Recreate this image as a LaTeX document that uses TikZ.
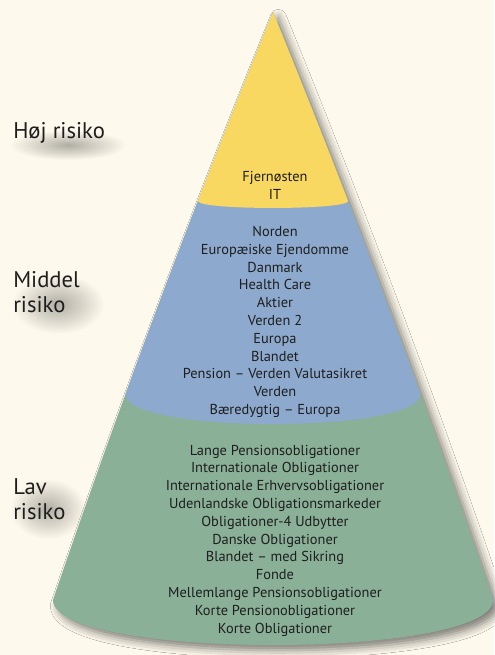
\documentclass[tikz,border=0pt]{standalone}
\usepackage{fontspec}
\setmainfont{PT Sans}
\usetikzlibrary{positioning,calc,shadows.blur,fadings}
\definecolor{bgcream}{HTML}{FDF9EC}
\definecolor{topyellow}{HTML}{F9D862}
\definecolor{midblue}{HTML}{8DAACE}
\definecolor{lowgreen}{HTML}{8AB098}
\definecolor{txt}{HTML}{1E1E1E}
\tikzfading[name=softblob, inner color=transparent!0, outer color=transparent!100]

\begin{document}
\begin{tikzpicture}[x=0.75pt, y=-0.75pt,
    fund/.style={align=center, inner sep=0pt, text=txt, font=\fontsize{10.8}{13.35}\selectfont},
    risk/.style={align=left, inner sep=0pt, anchor=west, text=txt, font=\fontsize{17}{18.75}\selectfont},
    blob/.style={fill=black, opacity=0.3, path fading=softblob}]
  \useasboundingbox[fill=bgcream] (0,0) rectangle (494,655);

  \fill[blob] (68,145) ellipse [x radius=58, y radius=15];
  \fill[blob] (58,304) ellipse [x radius=46, y radius=30];
  \fill[blob] (48,509) ellipse [x radius=38, y radius=30];

  \coordinate (apex) at (273,12);
  \coordinate (bl) at (53,600);
  \coordinate (br) at (493,600);
  \path (apex) .. controls (193,208) and (119.7,404) .. (bl)
    coordinate[pos=0.3214] (yl) coordinate[pos=0.6497] (gl);
  \path (apex) .. controls (353,208) and (426.3,404) .. (br)
    coordinate[pos=0.3214] (yr) coordinate[pos=0.6497] (gr);

  \fill[lowgreen, blur shadow={shadow xshift=4pt, shadow yshift=-4pt, shadow blur radius=6pt, shadow opacity=50}]
    (apex) .. controls (193,208) and (119.7,404) .. (bl)
    .. controls (53,660) and (493,660) .. (br)
    .. controls (426.3,404) and (353,208) .. (apex) -- cycle;
  \begin{scope}
    \clip (apex) .. controls (193,208) and (119.7,404) .. (bl)
      .. controls (53,660) and (493,660) .. (br)
      .. controls (426.3,404) and (353,208) .. (apex) -- cycle;
    \fill[midblue] (0,0) -- (0,394) -- (gl) .. controls ($(gl)+(0,40)$) and ($(gr)+(0,40)$) .. (gr)
      -- (494,394) -- (494,0) -- cycle;
    \fill[topyellow] (0,0) -- (0,201) -- (yl) .. controls ($(yl)+(0,9.3)$) and ($(yr)+(0,9.3)$) .. (yr)
      -- (494,201) -- (494,0) -- cycle;
  \end{scope}

  \node[fund] (high) at (275,185.5) {Fjernøsten\\IT};
  \node[fund] (mid) at (275,322) {Norden\\Europæiske Ejendomme\\Danmark\\Health Care\\Aktier\\Verden 2\\Europa\\Blandet\\Pension – Verden Valutasikret\\Verden\\Bæredygtig – Europa};
  \node[fund] (low) at (275,540.5) {Lange Pensionsobligationer\\Internationale Obligationer\\Internationale Erhvervsobligationer\\Udenlandske Obligationsmarkeder\\Obligationer-4 Udbytter\\Danske Obligationer\\Blandet – med Sikring\\Fonde\\Mellemlange Pensionsobligationer\\Korte Pensionobligationer\\Korte Obligationer};

  \node[risk] (highlbl) at (13,133) {Høj risiko};
  \node[risk] (midlbl) at (13,292) {Middel\\risiko};
  \node[risk] (lowlbl) at (13,499) {Lav\\risiko};
\end{tikzpicture}
\end{document}
